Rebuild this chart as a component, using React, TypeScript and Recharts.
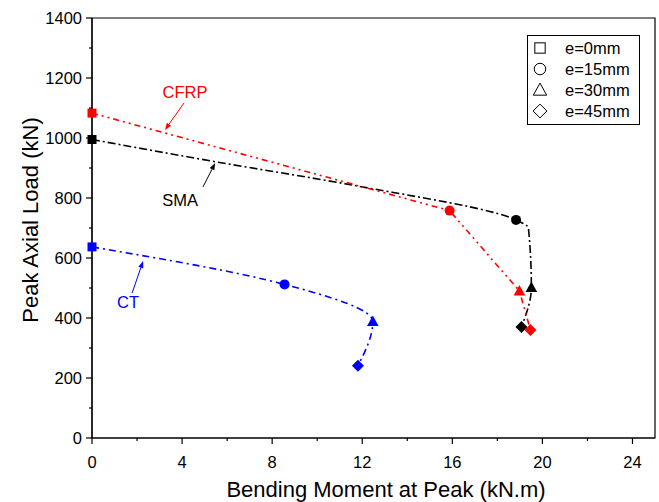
import { LineChart, Line, XAxis, YAxis, ReferenceArea, ReferenceLine, ReferenceDot, Legend } from 'recharts';

const FONT = '"Liberation Sans", Arial, Helvetica, sans-serif';

// bending moment (kN.m) / peak axial load (kN), points for e = 0, 15, 30, 45 mm
// the SMA trace also carries points (no marker)
const smaMoment = [0, 5.47, 11.56, 18.83, 19.38, 19.51, 19.07];
const smaLoad = [995, 921, 843, 727, 700, 502, 370];
const smaMarker = ['square', '', '', 'circle', '', 'triangle', 'diamond'];
const cfrpMoment = [0, 15.88, 18.98, 19.47];
const cfrpLoad = [1083, 758, 490, 360];
const ctMoment = [0, 8.55, 12.47, 11.81];
const ctLoad = [637, 512, 388, 241];

const eccentricities = ['e=0mm', 'e=15mm', 'e=30mm', 'e=45mm'];
const markerShapes = ['square', 'circle', 'triangle', 'diamond'];

const xTicks = [0, 2, 4, 6, 8, 10, 12, 14, 16, 18, 20, 22, 24];
const yTicks = [0, 100, 200, 300, 400, 500, 600, 700, 800, 900, 1000, 1100, 1200, 1300, 1400];

const toPoints = (moment: number[], load: number[], marker: string[] = markerShapes) =>
  moment.map((m, i) => ({ moment: m, load: load[i], shape: marker[i] }));

const smaData = toPoints(smaMoment, smaLoad, smaMarker);
const cfrpData = toPoints(cfrpMoment, cfrpLoad);
const ctData = toPoints(ctMoment, ctLoad);

// label text and arrow (tail -> tip), in data units
const annotations = [
  { text: 'CFRP', color: '#ff0000', at: [4.13, 1153], from: [4.09, 1117], to: [3.24, 1027] },
  { text: 'SMA', color: '#000000', at: [3.91, 793], from: [4.93, 837], to: [5.47, 917] },
  { text: 'CT', color: '#0000ff', at: [1.6, 453], from: [1.78, 483], to: [2.27, 590] },
];

const Marker = ({ shape, cx, cy, fill, stroke, s = 1 }: any) => {
  if (shape === 'square') {
    return <rect x={cx - 4.5 * s} y={cy - 4.5 * s} width={9 * s} height={9 * s} fill={fill} stroke={stroke} />;
  }
  if (shape === 'circle') {
    return <circle cx={cx} cy={cy} r={5 * s} fill={fill} stroke={stroke} />;
  }
  if (shape === 'triangle') {
    const pts = `${cx},${cy - 6 * s} ${cx + 5.8 * s},${cy + 4.5 * s} ${cx - 5.8 * s},${cy + 4.5 * s}`;
    return <polygon points={pts} fill={fill} stroke={stroke} />;
  }
  if (shape === 'diamond') {
    const pts = `${cx},${cy - 6 * s} ${cx + 6 * s},${cy} ${cx},${cy + 6 * s} ${cx - 6 * s},${cy}`;
    return <polygon points={pts} fill={fill} stroke={stroke} />;
  }
  return null;
};

const makeDot = (color: string) => (props: any) => {
  const { cx, cy, index, payload } = props;
  return (
    <g key={`dot-${color}-${index}`}>
      <Marker shape={payload.shape} cx={cx} cy={cy} fill={color} stroke="none" />
    </g>
  );
};

const XTick = (props: any) => {
  const { x, y, payload } = props;
  const major = payload.value % 4 === 0;
  return (
    <g>
      <line x1={x} y1={y} x2={x} y2={y + (major ? 6 : 3)} stroke="#000" strokeWidth={1.2} />
      {major && (
        <text x={x} y={y + 30} textAnchor="middle" fontSize={16.5} fontFamily={FONT} fill="#000">
          {payload.value}
        </text>
      )}
    </g>
  );
};

const YTick = (props: any) => {
  const { x, y, payload } = props;
  const major = payload.value % 200 === 0;
  return (
    <g>
      <line x1={x} y1={y} x2={x - (major ? 6 : 3)} y2={y} stroke="#000" strokeWidth={1.2} />
      {major && (
        <text x={x - 10} y={y + 6} textAnchor="end" fontSize={16.5} fontFamily={FONT} fill="#000">
          {payload.value}
        </text>
      )}
    </g>
  );
};

const makeArrow = (color: string) => (props: any) => {
  const { x1, y1, x2, y2 } = props;
  const a = Math.atan2(y2 - y1, x2 - x1);
  const len = 7;
  const half = 2.6;
  const bx = x2 - len * Math.cos(a);
  const by = y2 - len * Math.sin(a);
  const pts = `${x2},${y2} ${bx - half * Math.sin(a)},${by + half * Math.cos(a)} ${bx + half * Math.sin(a)},${by - half * Math.cos(a)}`;
  return (
    <g>
      <line x1={x1} y1={y1} x2={bx} y2={by} stroke={color} strokeWidth={1} />
      <polygon points={pts} fill={color} />
    </g>
  );
};

const makeLabel = (text: string, color: string) => (props: any) => (
  <text x={props.cx} y={props.cy} textAnchor="middle" dominantBaseline="central" fontSize={16.5} fontFamily={FONT} fill={color}>
    {text}
  </text>
);

const LegendBox = () => (
  <svg width={113} height={90} style={{ display: 'block' }}>
    <rect x={0.5} y={0.5} width={112} height={89} fill="#fff" stroke="#000" strokeWidth={1} />
    {eccentricities.map((label, i) => (
      <g key={label}>
        <Marker shape={markerShapes[i]} cx={13} cy={13 + i * 21} fill="#fff" stroke="#000" s={1.15} />
        <text x={38} y={13 + i * 21 + 6} fontSize={16.5} fontFamily={FONT} fill="#000">
          {label}
        </text>
      </g>
    ))}
  </svg>
);

export default function App() {
  return (
    <div style={{ position: 'absolute', left: 0, top: 0, background: '#fff' }}>
      <LineChart width={659} height={502} margin={{ top: 18, right: 4, bottom: 0, left: 0 }}>
        <XAxis
          dataKey="moment"
          type="number"
          domain={[0, 25]}
          ticks={xTicks}
          interval={0}
          height={64}
          tickLine={false}
          tickSize={0}
          tickMargin={0}
          tick={XTick}
          axisLine={{ stroke: '#000', strokeWidth: 1.2 }}
          label={{
            content: () => (
              <text x={386} y={497} textAnchor="middle" fontSize={22} fontFamily={FONT} fill="#000">
                Bending Moment at Peak (kN.m)
              </text>
            ),
          }}
        />
        <YAxis
          type="number"
          domain={[0, 1400]}
          ticks={yTicks}
          interval={0}
          width={92}
          tickLine={false}
          tickSize={0}
          tickMargin={0}
          tick={YTick}
          axisLine={{ stroke: '#000', strokeWidth: 1.2 }}
          label={{
            content: () => (
              <text x={30} y={220} transform="rotate(-90 30 220)" textAnchor="middle" dominantBaseline="central" fontSize={22} fontFamily={FONT} fill="#000">
                Peak Axial Load (kN)
              </text>
            ),
          }}
        />
        <ReferenceArea x1={0} x2={25} y1={0} y2={1400} fill="none" stroke="#000" strokeWidth={1.2} />
        <Legend
          layout="vertical"
          align="center"
          verticalAlign="middle"
          wrapperStyle={{ left: 527, top: 35, width: 113, height: 90 }}
          content={() => <LegendBox />}
        />
        <Line
          data={smaData}
          dataKey="load"
          type="monotoneY"
          stroke="#000"
          strokeWidth={1.6}
          strokeDasharray="8 3 2 3"
          dot={makeDot('#000')}
          activeDot={false}
          isAnimationActive={false}
        />
        <Line
          data={cfrpData}
          dataKey="load"
          type="linear"
          stroke="#ff0000"
          strokeWidth={1.6}
          strokeDasharray="6 4 2 4 2 4"
          dot={makeDot('#ff0000')}
          activeDot={false}
          isAnimationActive={false}
        />
        <Line
          data={ctData}
          dataKey="load"
          type="monotoneY"
          stroke="#0000ff"
          strokeWidth={1.6}
          strokeDasharray="7 4 2 4"
          dot={makeDot('#0000ff')}
          activeDot={false}
          isAnimationActive={false}
        />
        {annotations.map((a) => (
          <ReferenceLine
            key={`arrow-${a.text}`}
            segment={[{ x: a.from[0], y: a.from[1] }, { x: a.to[0], y: a.to[1] }]}
            shape={makeArrow(a.color)}
          />
        ))}
        {annotations.map((a) => (
          <ReferenceDot key={`label-${a.text}`} x={a.at[0]} y={a.at[1]} r={0} shape={makeLabel(a.text, a.color)} />
        ))}
      </LineChart>
    </div>
  );
}
